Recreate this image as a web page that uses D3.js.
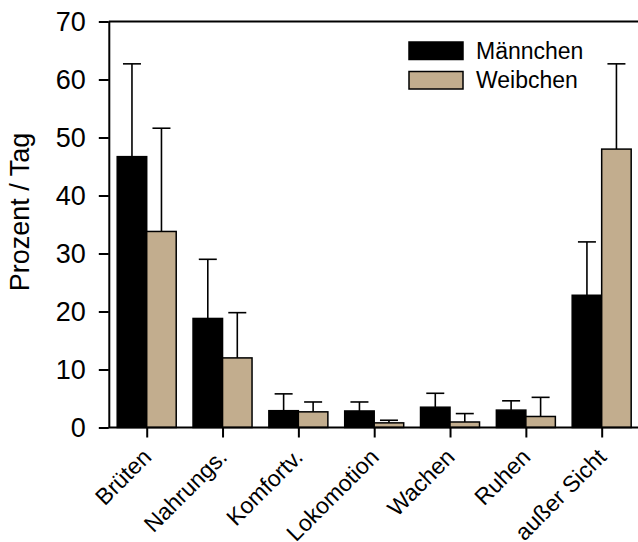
<!DOCTYPE html>
<html lang="de">
<head>
<meta charset="utf-8">
<style>
html, body {
    margin: 0;
    padding: 0;
    background: #fff;
}
svg {
    display: block;
    width: 638px;
    height: 542px;
    font-family: "Liberation Sans", Arial, sans-serif;
}
</style>
</head>
<body>
<svg></svg>

<script src="https://cdn.jsdelivr.net/npm/d3@7/dist/d3.min.js"></script>
<script>
// Verhalten pro Tag, Männchen vs. Weibchen (Mittelwert + SD)

var categories = ["Brüten", "Nahrungs.", "Komfortv.", "Lokomotion", "Wachen", "Ruhen", "außer Sicht"];
var seriesNames = ["Männchen", "Weibchen"];

var maleMean   = [46.7, 18.8, 2.9, 2.85, 3.5, 3.0, 22.8];
var maleErr    = [62.7, 29.0, 5.8, 4.4,  5.9, 4.6, 32.0];
var femaleMean = [33.8, 12.0, 2.7, 0.8,  0.95, 1.9, 48.0];
var femaleErr  = [51.6, 19.8, 4.4, 1.25, 2.4, 5.2, 62.7];

var yTicks = [0, 10, 20, 30, 40, 50, 60, 70];
var colors = ["#000000", "#c2ad8e"];

var svg = d3.select("svg");
var width = 638;
var height = 542;

var plotLeft = 108.8, plotRight = 639.6, plotTop = 21.5, plotBottom = 427.5;

var x = d3.scalePoint()
    .domain(categories)
    .range([plotLeft, plotRight])
    .padding(0.5);

var sub = d3.scaleBand()
    .domain(seriesNames)
    .range([-29.5, 29.5]);

var y = d3.scaleLinear()
    .domain([0, 70])
    .range([plotBottom, plotTop]);

// data rows built from the arrays
var rows = [];
categories.forEach(function(c, i) {
    rows.push({cat: c, s: seriesNames[0], v: maleMean[i], e: maleErr[i], col: colors[0]});
    rows.push({cat: c, s: seriesNames[1], v: femaleMean[i], e: femaleErr[i], col: colors[1]});
});

/////////////////////////////////////////
// error bars (drawn first, bars on top)
/////////////////////////////////////////
var eb = svg.append("g")
    .attr("stroke", "#000")
    .attr("stroke-width", 1.6);

rows.forEach(function(d) {
    var cx = x(d.cat) + sub(d.s) + sub.bandwidth() / 2;
    eb.append("line")
        .attr("x1", cx).attr("x2", cx)
        .attr("y1", y(d.v)).attr("y2", y(d.e));
    eb.append("line")
        .attr("x1", cx - 9).attr("x2", cx + 9)
        .attr("y1", y(d.e)).attr("y2", y(d.e));
});

/////////////////////////////////////////
// bars
/////////////////////////////////////////
svg.append("g")
    .selectAll("rect")
    .data(rows)
    .enter()
    .append("rect")
    .attr("x", function(d){ return x(d.cat) + sub(d.s) })
    .attr("y", function(d){ return y(d.v) })
    .attr("width", sub.bandwidth())
    .attr("height", function(d){ return y(0) - y(d.v) })
    .attr("fill", function(d){ return d.col })
    .attr("stroke", "#000")
    .attr("stroke-width", 1.5);

/////////////////////////////////////////
// axes
/////////////////////////////////////////
var yAxis = svg.append("g")
    .attr("transform", "translate(" + plotLeft + ",0)")
    .call(d3.axisLeft(y).tickValues(yTicks).tickSize(10).tickSizeOuter(0).tickPadding(13));

yAxis.selectAll("text")
    .attr("font-size", 27)
    .attr("font-family", "Liberation Sans, Arial, sans-serif")
    .attr("fill", "#000");
yAxis.selectAll("line, path").attr("stroke", "#000").attr("stroke-width", 2);

// top frame line
svg.append("line")
    .attr("x1", plotLeft).attr("x2", width)
    .attr("y1", y(70)).attr("y2", y(70))
    .attr("stroke", "#000")
    .attr("stroke-width", 2);

var xAxis = svg.append("g")
    .attr("transform", "translate(0," + plotBottom + ")")
    .call(d3.axisBottom(x).tickSize(10).tickSizeOuter(0).tickFormat(""));

xAxis.select(".domain")
    .attr("d", "M" + plotLeft + ",0H" + width);
xAxis.selectAll("line, path").attr("stroke", "#000").attr("stroke-width", 2);

svg.append("g")
    .selectAll("text")
    .data(categories)
    .enter()
    .append("text")
    .attr("transform", function(d){ return "translate(" + (x(d) + 6) + "," + (plotBottom + 31) + ") rotate(-45)" })
    .attr("text-anchor", "end")
    .attr("font-size", 23)
    .attr("fill", "#000")
    .text(function(d){ return d });

// y title
svg.append("text")
    .attr("transform", "translate(29,212) rotate(-90)")
    .attr("text-anchor", "middle")
    .attr("font-size", 27)
    .attr("fill", "#000")
    .text("Prozent / Tag");

/////////////////////////////////////////
// legend
/////////////////////////////////////////
var legend = svg.append("g");
seriesNames.forEach(function(s, i) {
    legend.append("rect")
        .attr("x", 409).attr("y", 42 + i * 29.5)
        .attr("width", 54).attr("height", 17.5)
        .attr("fill", colors[i])
        .attr("stroke", "#000")
        .attr("stroke-width", 1.5);
    legend.append("text")
        .attr("x", 476).attr("y", 58.5 + i * 29.5)
        .attr("font-size", 23)
        .attr("fill", "#000")
        .text(s);
});
</script>
</body>
</html>
